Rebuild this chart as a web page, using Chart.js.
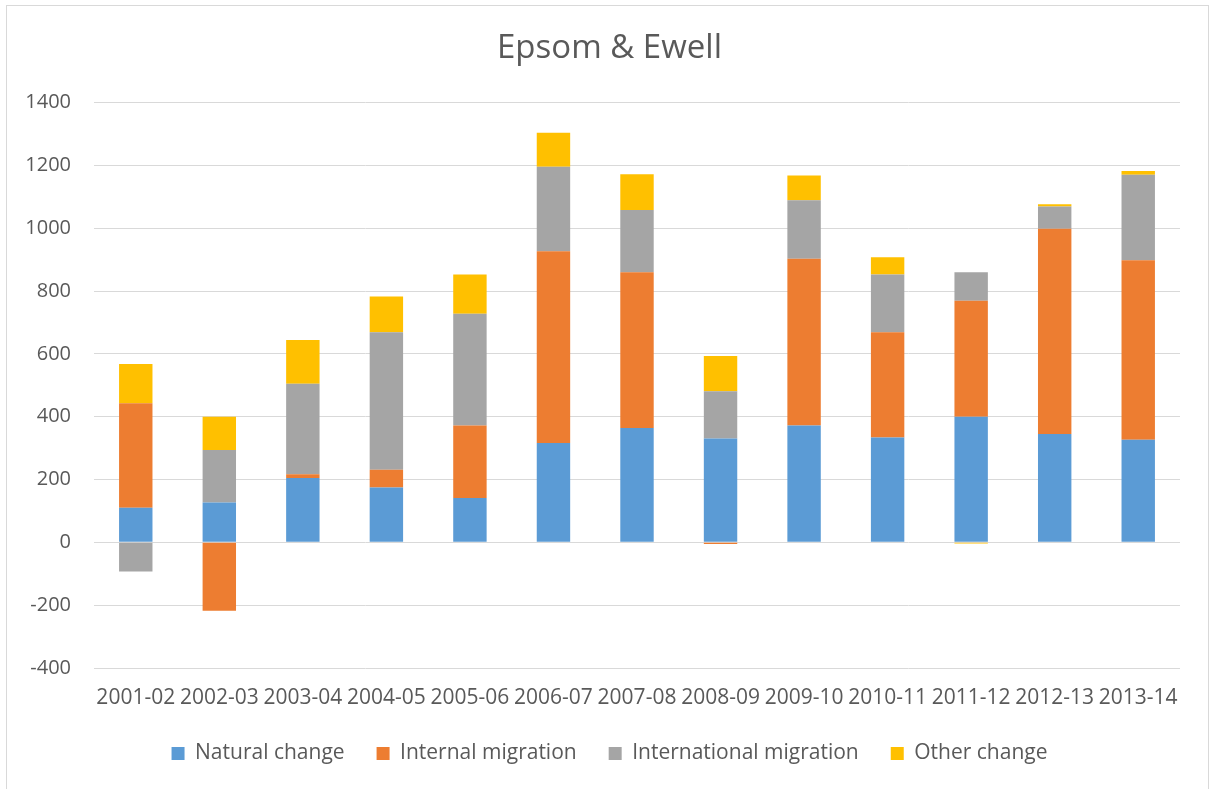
<!DOCTYPE html>
<html>
<head>
<meta charset="utf-8">
<title>Epsom & Ewell</title>
<script src="https://cdn.jsdelivr.net/npm/chart.js@4.4.1/dist/chart.umd.min.js"></script>
<style>
  body { margin: 0; background: #fff; overflow: hidden; }
  #frame {
    position: absolute; left: 6px; top: 5px; width: 1203px; height: 800px;
    box-sizing: border-box; border: 1px solid #d9d9d9;
  }
  #chart { position: absolute; left: 0; top: 0; }
</style>
</head>
<body>
<div id="frame"></div>
<canvas id="chart" width="1209" height="789"></canvas>
<script>
// Years on the x axis
const years = ['2001-02', '2002-03', '2003-04', '2004-05', '2005-06', '2006-07', '2007-08',
               '2008-09', '2009-10', '2010-11', '2011-12', '2012-13', '2013-14'];

// Components of population change
const naturalChange = [110, 127, 205, 175, 141, 316, 364, 331, 372, 334, 400, 345, 327];
const internalMigration = [333, -218, 12, 56, 231, 611, 496, -5, 531, 335, 369, 653, 571];
const internationalMigration = [-93, 167, 288, 438, 356, 269, 198, 150, 186, 184, 91, 71, 272];
const otherChange = [125, 106, 139, 114, 125, 108, 114, 112, 79, 55, -4, 7, 12];

const textColor = '#595959';
const fontFamily = '"Open Sans", "DejaVu Sans", sans-serif';

const ctx = document.getElementById('chart').getContext('2d');
const chart = new Chart(ctx, {
    type: 'bar',
    data: {
        labels: years,
        datasets: [
            { label: 'Natural change', data: naturalChange, backgroundColor: '#5b9bd5' },
            { label: 'Internal migration', data: internalMigration, backgroundColor: '#ed7d31' },
            { label: 'International migration', data: internationalMigration, backgroundColor: '#a5a5a5' },
            { label: 'Other change', data: otherChange, backgroundColor: '#ffc000' }
        ]
    },
    options: {
        responsive: false,
        animation: false,
        datasets: {
            bar: { categoryPercentage: 1, barPercentage: 0.4 }
        },
        layout: { padding: { left: 10, right: 0, top: 0, bottom: 15 } },
        plugins: {
            title: {
                display: true,
                text: 'Epsom & Ewell',
                color: textColor,
                font: { family: fontFamily, size: 33, weight: 'normal' },
                padding: { top: 29, bottom: 34 }
            },
            legend: {
                position: 'bottom',
                labels: {
                    color: textColor,
                    font: { family: fontFamily, size: 21 },
                    boxWidth: 13,
                    boxHeight: 13,
                    padding: 32
                }
            },
            tooltip: { enabled: false }
        },
        scales: {
            x: {
                stacked: true,
                grid: { display: false, drawTicks: false },
                border: { display: false },
                ticks: { color: textColor, font: { family: fontFamily, size: 21 }, padding: 17, maxRotation: 0 },
                afterFit: (scale) => { scale.height = 43; }
            },
            y: {
                stacked: true,
                min: -400,
                max: 1400,
                grid: { color: '#d9d9d9', lineWidth: 1, drawTicks: false },
                border: { display: false },
                ticks: {
                    stepSize: 200,
                    color: textColor,
                    font: { family: fontFamily, size: 20 },
                    padding: 23,
                    callback: (value) => String(value)
                },
                afterFit: (scale) => { scale.width = 84; }
            },
            // empty right-hand axis, only keeps the plot area off the right edge
            yRight: {
                position: 'right',
                grid: { display: false, drawTicks: false },
                border: { display: false },
                ticks: { display: false },
                afterFit: (scale) => { scale.width = 29; }
            }
        }
    }
});
</script>
</body>
</html>
